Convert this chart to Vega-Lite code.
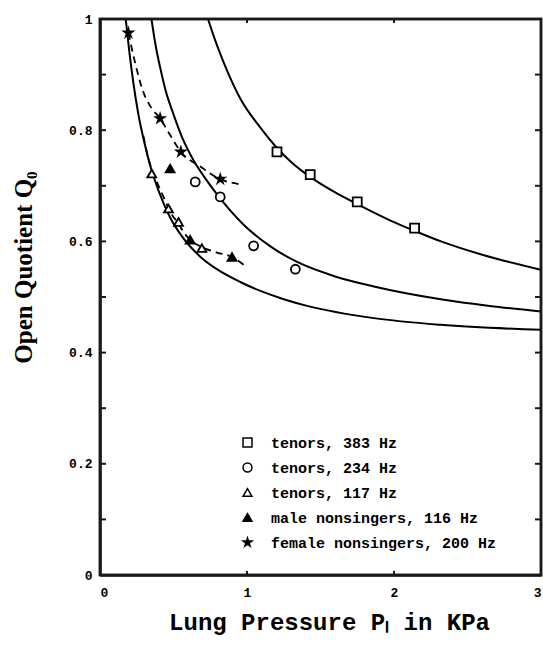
{
  "$schema": "https://vega.github.io/schema/vega-lite/v6.json",
  "width": 441,
  "height": 556,
  "autosize": {"type": "none"},
  "padding": {"left": 100, "top": 19, "right": 2, "bottom": 81},
  "background": "white",
  "config": {
    "view": {"stroke": "#1a1a1a", "strokeWidth": 2.5},
    "axis": {
      "grid": false,
      "domain": true,
      "domainColor": "#1a1a1a",
      "domainWidth": 2.5,
      "ticks": false,
      "tickSize": 0,
      "zindex": 1,
      "labelColor": "black",
      "labelFont": "Liberation Mono",
      "labelFontWeight": "bold",
      "labelFontSize": 13
    }
  },
  "datasets": {
    "fits": [
      {"curve": "fit 383 Hz", "P": 0.735, "Q": 1.0},
      {"curve": "fit 383 Hz", "P": 0.77, "Q": 0.972},
      {"curve": "fit 383 Hz", "P": 0.8, "Q": 0.95},
      {"curve": "fit 383 Hz", "P": 0.863, "Q": 0.908},
      {"curve": "fit 383 Hz", "P": 0.954, "Q": 0.857},
      {"curve": "fit 383 Hz", "P": 1.09, "Q": 0.805},
      {"curve": "fit 383 Hz", "P": 1.204, "Q": 0.768},
      {"curve": "fit 383 Hz", "P": 1.3, "Q": 0.743},
      {"curve": "fit 383 Hz", "P": 1.43, "Q": 0.716},
      {"curve": "fit 383 Hz", "P": 1.6, "Q": 0.688},
      {"curve": "fit 383 Hz", "P": 1.75, "Q": 0.667},
      {"curve": "fit 383 Hz", "P": 1.98, "Q": 0.637},
      {"curve": "fit 383 Hz", "P": 2.14, "Q": 0.619},
      {"curve": "fit 383 Hz", "P": 2.32, "Q": 0.6},
      {"curve": "fit 383 Hz", "P": 2.6, "Q": 0.576},
      {"curve": "fit 383 Hz", "P": 3.0, "Q": 0.549},

      {"curve": "fit 234 Hz", "P": 0.35, "Q": 1.0},
      {"curve": "fit 234 Hz", "P": 0.38, "Q": 0.95},
      {"curve": "fit 234 Hz", "P": 0.41, "Q": 0.912},
      {"curve": "fit 234 Hz", "P": 0.45, "Q": 0.868},
      {"curve": "fit 234 Hz", "P": 0.49, "Q": 0.836},
      {"curve": "fit 234 Hz", "P": 0.557, "Q": 0.788},
      {"curve": "fit 234 Hz", "P": 0.636, "Q": 0.746},
      {"curve": "fit 234 Hz", "P": 0.72, "Q": 0.712},
      {"curve": "fit 234 Hz", "P": 0.795, "Q": 0.685},
      {"curve": "fit 234 Hz", "P": 0.977, "Q": 0.63},
      {"curve": "fit 234 Hz", "P": 1.159, "Q": 0.591},
      {"curve": "fit 234 Hz", "P": 1.341, "Q": 0.563},
      {"curve": "fit 234 Hz", "P": 1.6, "Q": 0.537},
      {"curve": "fit 234 Hz", "P": 1.863, "Q": 0.519},
      {"curve": "fit 234 Hz", "P": 2.318, "Q": 0.496},
      {"curve": "fit 234 Hz", "P": 2.65, "Q": 0.484},
      {"curve": "fit 234 Hz", "P": 3.0, "Q": 0.474},

      {"curve": "fit 117 Hz", "P": 0.175, "Q": 1.0},
      {"curve": "fit 117 Hz", "P": 0.2, "Q": 0.94},
      {"curve": "fit 117 Hz", "P": 0.227, "Q": 0.885},
      {"curve": "fit 117 Hz", "P": 0.26, "Q": 0.83},
      {"curve": "fit 117 Hz", "P": 0.307, "Q": 0.772},
      {"curve": "fit 117 Hz", "P": 0.341, "Q": 0.737},
      {"curve": "fit 117 Hz", "P": 0.4, "Q": 0.69},
      {"curve": "fit 117 Hz", "P": 0.477, "Q": 0.643},
      {"curve": "fit 117 Hz", "P": 0.56, "Q": 0.608},
      {"curve": "fit 117 Hz", "P": 0.68, "Q": 0.573},
      {"curve": "fit 117 Hz", "P": 0.795, "Q": 0.55},
      {"curve": "fit 117 Hz", "P": 0.954, "Q": 0.527},
      {"curve": "fit 117 Hz", "P": 1.1, "Q": 0.51},
      {"curve": "fit 117 Hz", "P": 1.25, "Q": 0.496},
      {"curve": "fit 117 Hz", "P": 1.409, "Q": 0.484},
      {"curve": "fit 117 Hz", "P": 1.863, "Q": 0.462},
      {"curve": "fit 117 Hz", "P": 2.318, "Q": 0.45},
      {"curve": "fit 117 Hz", "P": 3.0, "Q": 0.441}
    ],
    "trends": [
      {"curve": "female trend", "P": 0.193, "Q": 0.975},
      {"curve": "female trend", "P": 0.24, "Q": 0.92},
      {"curve": "female trend", "P": 0.29, "Q": 0.872},
      {"curve": "female trend", "P": 0.345, "Q": 0.842},
      {"curve": "female trend", "P": 0.409, "Q": 0.821},
      {"curve": "female trend", "P": 0.48, "Q": 0.79},
      {"curve": "female trend", "P": 0.55, "Q": 0.761},
      {"curve": "female trend", "P": 0.68, "Q": 0.735},
      {"curve": "female trend", "P": 0.818, "Q": 0.712},
      {"curve": "female trend", "P": 0.943, "Q": 0.703},

      {"curve": "male trend", "P": 0.295, "Q": 0.79},
      {"curve": "male trend", "P": 0.33, "Q": 0.748},
      {"curve": "male trend", "P": 0.364, "Q": 0.722},
      {"curve": "male trend", "P": 0.432, "Q": 0.68},
      {"curve": "male trend", "P": 0.489, "Q": 0.648},
      {"curve": "male trend", "P": 0.534, "Q": 0.632},
      {"curve": "male trend", "P": 0.568, "Q": 0.617},
      {"curve": "male trend", "P": 0.613, "Q": 0.603},
      {"curve": "male trend", "P": 0.69, "Q": 0.59},
      {"curve": "male trend", "P": 0.795, "Q": 0.58},
      {"curve": "male trend", "P": 0.898, "Q": 0.572},
      {"curve": "male trend", "P": 0.977, "Q": 0.558}
    ],
    "points": [
      {"group": "tenors, 383 Hz", "P": 1.204, "Q": 0.761},
      {"group": "tenors, 383 Hz", "P": 1.43, "Q": 0.72},
      {"group": "tenors, 383 Hz", "P": 1.75, "Q": 0.671},
      {"group": "tenors, 383 Hz", "P": 2.14, "Q": 0.624},
      {"group": "tenors, 234 Hz", "P": 0.648, "Q": 0.707},
      {"group": "tenors, 234 Hz", "P": 0.818, "Q": 0.68},
      {"group": "tenors, 234 Hz", "P": 1.045, "Q": 0.592},
      {"group": "tenors, 234 Hz", "P": 1.329, "Q": 0.55},
      {"group": "tenors, 117 Hz", "P": 0.352, "Q": 0.722},
      {"group": "tenors, 117 Hz", "P": 0.466, "Q": 0.659},
      {"group": "tenors, 117 Hz", "P": 0.534, "Q": 0.635},
      {"group": "tenors, 117 Hz", "P": 0.693, "Q": 0.588},
      {"group": "male nonsingers, 116 Hz", "P": 0.477, "Q": 0.731},
      {"group": "male nonsingers, 116 Hz", "P": 0.613, "Q": 0.603},
      {"group": "male nonsingers, 116 Hz", "P": 0.898, "Q": 0.572},
      {"group": "female nonsingers, 200 Hz", "P": 0.193, "Q": 0.975},
      {"group": "female nonsingers, 200 Hz", "P": 0.409, "Q": 0.821},
      {"group": "female nonsingers, 200 Hz", "P": 0.55, "Q": 0.761},
      {"group": "female nonsingers, 200 Hz", "P": 0.818, "Q": 0.712}
    ],
    "frame": [
      {"P": 0, "P2": 3, "Q": 0, "Q2": 1}
    ],
    "leftticks": [
      {"P": 0, "Q": 0.1}, {"P": 0, "Q": 0.2}, {"P": 0, "Q": 0.3}, {"P": 0, "Q": 0.4}, {"P": 0, "Q": 0.5},
      {"P": 0, "Q": 0.6}, {"P": 0, "Q": 0.7}, {"P": 0, "Q": 0.8}, {"P": 0, "Q": 0.9}
    ],
    "rightticks": [
      {"P": 3, "Q": 0.1}, {"P": 3, "Q": 0.2}, {"P": 3, "Q": 0.3}, {"P": 3, "Q": 0.4}, {"P": 3, "Q": 0.5},
      {"P": 3, "Q": 0.6}, {"P": 3, "Q": 0.7}, {"P": 3, "Q": 0.8}, {"P": 3, "Q": 0.9}
    ],
    "bottomticks": [
      {"P": 1, "Q": 0}, {"P": 2, "Q": 0}
    ],
    "topticks": [
      {"P": 1, "Q": 1}, {"P": 2, "Q": 1}
    ]
  },
  "layer": [
    {
      "data": {"name": "fits"},
      "mark": {"type": "line", "color": "black", "strokeWidth": 2, "interpolate": "monotone"},
      "encoding": {
        "x": {
          "field": "P", "type": "quantitative",
          "scale": {"domain": [0, 3], "nice": false},
          "axis": {
            "orient": "bottom", "values": [0, 1, 2, 3], "format": "d",
            "labelPadding": 11,
            "title": "Lung Pressure  Pₗ in KPa",
            "titleFont": "Liberation Mono", "titleFontSize": 24, "titleFontWeight": "bold", "titleColor": "black",
            "titleX": 229, "titleY": 47, "titleBaseline": "middle", "titleAlign": "center"
          }
        },
        "y": {
          "field": "Q", "type": "quantitative",
          "scale": {"domain": [0, 1], "nice": false},
          "axis": {
            "orient": "left", "values": [0, 0.2, 0.4, 0.6, 0.8, 1],
            "format": ".1~f",
            "labelPadding": 8,
            "title": "Open Quotient Q₀",
            "titleFont": "Liberation Serif", "titleFontSize": 25, "titleFontWeight": "bold", "titleColor": "black",
            "titleX": -77, "titleY": 248, "titleAngle": -90, "titleBaseline": "middle", "titleAlign": "center"
          }
        },
        "detail": {"field": "curve", "type": "nominal"}
      }
    },
    {
      "data": {"name": "trends"},
      "mark": {"type": "line", "color": "black", "strokeWidth": 1.8, "strokeDash": [7, 5], "interpolate": "monotone"},
      "encoding": {
        "x": {"field": "P", "type": "quantitative"},
        "y": {"field": "Q", "type": "quantitative"},
        "detail": {"field": "curve", "type": "nominal"}
      }
    },
    {
      "data": {"name": "points"},
      "mark": {"type": "point", "filled": true, "stroke": "black", "strokeWidth": 1.8, "size": 80, "opacity": 1},
      "encoding": {
        "x": {"field": "P", "type": "quantitative"},
        "y": {"field": "Q", "type": "quantitative"},
        "shape": {
          "field": "group", "type": "nominal",
          "scale": {
            "domain": ["tenors, 383 Hz", "tenors, 234 Hz", "tenors, 117 Hz", "male nonsingers, 116 Hz", "female nonsingers, 200 Hz"],
            "range": ["square", "circle", "triangle-up", "triangle-up", "M0,-1L0.22,-0.31L0.95,-0.31L0.36,0.12L0.59,0.81L0,0.38L-0.59,0.81L-0.36,0.12L-0.95,-0.31L-0.22,-0.31Z"]
          },
          "legend": {
            "orient": "none", "legendX": 140, "legendY": 416, "title": null, "padding": 0,
            "labelFont": "Liberation Mono", "labelFontSize": 15, "labelFontWeight": "bold", "labelColor": "black",
            "labelLimit": 500,
            "rowPadding": 9, "symbolSize": 80, "labelOffset": 16,
            "encode": {"symbols": {"update": {"stroke": {"value": "black"}, "strokeWidth": {"value": 1.8}}}}
          }
        },
        "fill": {
          "field": "group", "type": "nominal",
          "scale": {
            "domain": ["tenors, 383 Hz", "tenors, 234 Hz", "tenors, 117 Hz", "male nonsingers, 116 Hz", "female nonsingers, 200 Hz"],
            "range": ["white", "white", "white", "black", "black"]
          },
          "legend": {
            "orient": "none", "legendX": 140, "legendY": 416, "title": null, "padding": 0,
            "labelFont": "Liberation Mono", "labelFontSize": 15, "labelFontWeight": "bold", "labelColor": "black",
            "labelLimit": 500,
            "rowPadding": 9, "symbolSize": 80, "labelOffset": 16,
            "encode": {"symbols": {"update": {"stroke": {"value": "black"}, "strokeWidth": {"value": 1.8}}}}
          }
        }
      }
    },
    {
      "data": {"name": "frame"},
      "mark": {"type": "rect", "fill": null, "stroke": "#1a1a1a", "strokeWidth": 2.5},
      "encoding": {
        "x": {"field": "P", "type": "quantitative"},
        "x2": {"field": "P2"},
        "y": {"field": "Q", "type": "quantitative"},
        "y2": {"field": "Q2"}
      }
    },
    {
      "data": {"name": "leftticks"},
      "mark": {"type": "tick", "orient": "horizontal", "size": 6, "thickness": 2, "color": "#1a1a1a", "opacity": 1, "xOffset": 3},
      "encoding": {
        "x": {"field": "P", "type": "quantitative"},
        "y": {"field": "Q", "type": "quantitative"}
      }
    },
    {
      "data": {"name": "rightticks"},
      "mark": {"type": "tick", "orient": "horizontal", "size": 6, "thickness": 2, "color": "#1a1a1a", "opacity": 1, "xOffset": -3},
      "encoding": {
        "x": {"field": "P", "type": "quantitative"},
        "y": {"field": "Q", "type": "quantitative"}
      }
    },
    {
      "data": {"name": "bottomticks"},
      "mark": {"type": "tick", "orient": "vertical", "size": 4, "thickness": 2, "color": "#1a1a1a", "opacity": 1, "yOffset": -2},
      "encoding": {
        "x": {"field": "P", "type": "quantitative"},
        "y": {"field": "Q", "type": "quantitative"}
      }
    },
    {
      "data": {"name": "topticks"},
      "mark": {"type": "tick", "orient": "vertical", "size": 4, "thickness": 2, "color": "#1a1a1a", "opacity": 1, "yOffset": 2},
      "encoding": {
        "x": {"field": "P", "type": "quantitative"},
        "y": {"field": "Q", "type": "quantitative"}
      }
    }
  ]
}
